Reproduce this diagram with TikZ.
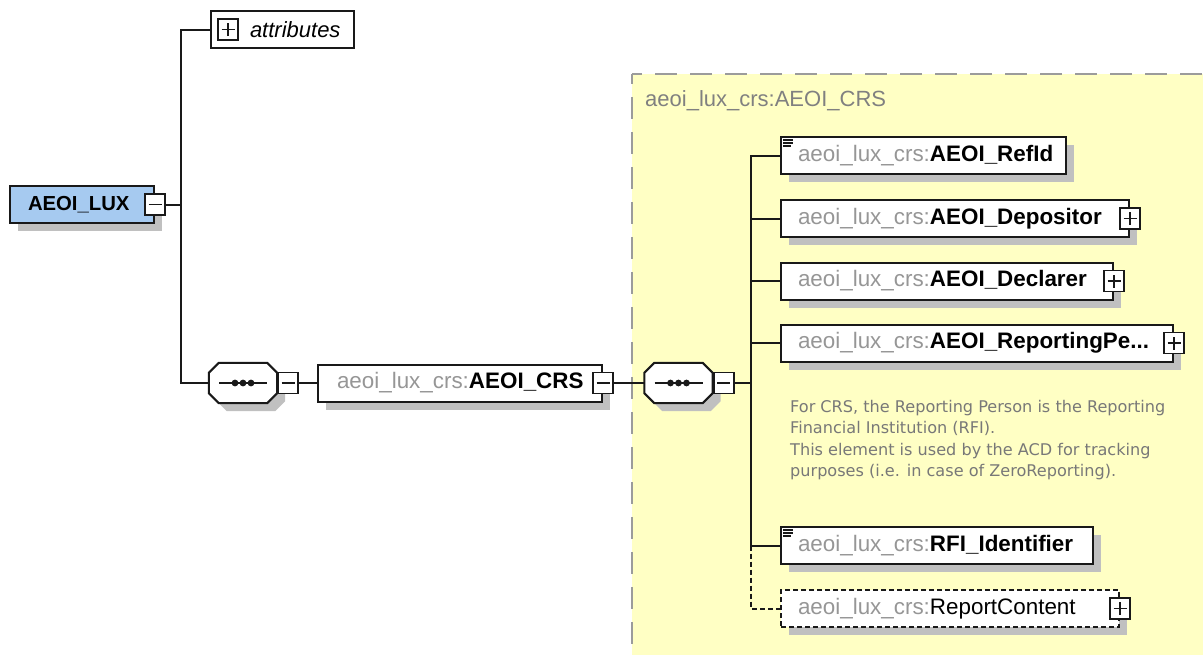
\documentclass[tikz,border=0pt]{standalone}
\usepackage{fontspec}
\setmainfont{Liberation Sans}
\newfontfamily\annfont{DejaVu Sans}
\usetikzlibrary{shadows}
\definecolor{luxblue}{RGB}{166,202,240}
\definecolor{crsyellow}{RGB}{255,255,196}
\definecolor{shgray}{RGB}{192,192,192}
\definecolor{nsgray}{RGB}{150,150,150}
\definecolor{lblgray}{RGB}{128,128,128}
\definecolor{anngray}{RGB}{120,120,120}
\definecolor{bordergray}{RGB}{155,155,155}
\definecolor{lineblack}{RGB}{25,25,25}
\tikzset{
  elem/.style={draw=lineblack, line width=2pt, fill=white, rectangle, anchor=west,
    minimum height=37pt, inner sep=0pt, font=\fontsize{22.4}{26}\selectfont,
    drop shadow={shadow xshift=8pt, shadow yshift=-8pt, fill=shgray, opacity=1}},
  optelem/.style={elem, dash pattern=on 5pt off 3pt},
  pmbox/.style={draw=lineblack, line width=1.8pt, fill=white, rectangle,
    minimum width=20pt, minimum height=21pt, inner sep=0pt},
  plusbox/.style={pmbox, path picture={
    \draw[line width=1.8pt] ([xshift=-6.5pt]path picture bounding box.center) -- ([xshift=6.5pt]path picture bounding box.center)
      ([yshift=-6.5pt]path picture bounding box.center) -- ([yshift=6.5pt]path picture bounding box.center);}},
  minusbox/.style={pmbox, path picture={
    \draw[line width=1.8pt] ([xshift=-6.5pt]path picture bounding box.center) -- ([xshift=6.5pt]path picture bounding box.center);}},
  conn/.style={draw=lineblack, line width=2pt},
  optconn/.style={conn, dash pattern=on 5pt off 3pt},
  seqhold/.style={rectangle, minimum width=68pt, minimum height=40pt, inner sep=0pt},
  regionborder/.style={draw=bordergray, line width=2pt, dash pattern=on 22pt off 13pt, dash phase=12pt},
}
\newcommand{\xel}[5][elem]{\node[#1] (#2) at (780,#3) {\makebox[#4pt][l]{\hspace{17pt}\textcolor{nsgray}{aeoi\_lux\_crs:}#5}};}
\begin{document}
\begin{tikzpicture}[x=1pt,y=-1pt]
\useasboundingbox (0,0) rectangle (1203,654);
\fill[white] (0,0) rectangle (1203,654);
\clip (0,0) rectangle (1203,654);
% complex type region
\fill[crsyellow] (632,74) rectangle (1240,700);
\draw[regionborder] (632,74) -- (632,700);
\draw[regionborder] (632,74) -- (1240,74);
\node[anchor=west, inner sep=0pt, text=lblgray, font=\fontsize{22}{26}\selectfont] (crslabel) at (645,101) {aeoi\_lux\_crs:AEOI\_CRS};
% attributes
\node[draw=lineblack, line width=2pt, fill=white, anchor=west, minimum height=37pt, inner sep=0pt,
  font=\fontsize{22}{26}\selectfont] (attr) at (210,29.5) {\makebox[143pt][l]{\hspace{39pt}\textit{attributes}}};
\node[plusbox] (attrp) at ([xshift=18pt]attr.west) {};
% root
\node[elem, fill=luxblue, font=\bfseries\fontsize{20.3}{24}\selectfont] (lux) at (9,204.5) {\makebox[144pt][l]{\hspace{18pt}AEOI\_LUX}};
\node[minusbox] (luxm) at (lux.east) {};
% sequences
\node[seqhold] (seqA) at (243,383) {};
\node[seqhold] (seqB) at (678.5,383) {};
\foreach \s in {seqA,seqB}{
  \begin{scope}[transform canvas={xshift=8pt,yshift=-8pt}]
    \fill[shgray] ([xshift=10pt]\s.north west) -- ([xshift=-10pt]\s.north east) -- ([yshift=-10pt]\s.north east) -- ([yshift=10pt]\s.south east) -- ([xshift=-10pt]\s.south east) -- ([xshift=10pt]\s.south west) -- ([yshift=10pt]\s.south west) -- ([yshift=-10pt]\s.north west) -- cycle;
  \end{scope}
  \filldraw[fill=white, draw=lineblack, line width=2pt] ([xshift=10pt]\s.north west) -- ([xshift=-10pt]\s.north east) -- ([yshift=-10pt]\s.north east) -- ([yshift=10pt]\s.south east) -- ([xshift=-10pt]\s.south east) -- ([xshift=10pt]\s.south west) -- ([yshift=10pt]\s.south west) -- ([yshift=-10pt]\s.north west) -- cycle;
  \draw[line width=2pt, lineblack] ([xshift=-24pt]\s.center) -- ([xshift=24pt]\s.center);
  \foreach \d in {-8,0,8} \fill[lineblack] ([xshift=\d pt]\s.center) circle[radius=3.4pt];
}
\node[minusbox, anchor=west] (seqAm) at (seqA.east) {};
\node[minusbox, anchor=west] (seqBm) at (seqB.east) {};
% AEOI_CRS
\node[elem] (crs) at (317,383) {\makebox[284pt][l]{\hspace{19pt}\textcolor{nsgray}{aeoi\_lux\_crs:}\textbf{AEOI\_CRS}}};
\node[minusbox] (crsm) at (crs.east) {};
% children
\xel{refid}{155.5}{285}{\textbf{AEOI\_RefId}}
\xel{dep}{218.5}{348}{\textbf{AEOI\_Depositor}}
\xel{decl}{281}{332}{\textbf{AEOI\_Declarer}}
\xel{rep}{343}{392}{\textbf{AEOI\_ReportingPe...}}
\xel{rfi}{545.5}{312}{\textbf{RFI\_Identifier}}
\xel[optelem]{rc}{608.5}{338}{ReportContent}
\node[plusbox] (depp) at (dep.east) {};
\node[plusbox] (declp) at (decl.east) {};
\node[plusbox] (repp) at (rep.east) {};
\node[plusbox] (rcp) at (rc.east) {};
% simple-content icons
\foreach \n in {refid,rfi}{
  \draw[line width=1.3pt, lineblack] ([xshift=3pt,yshift=-4pt]\n.north west) -- ([xshift=13pt,yshift=-4pt]\n.north west);
  \draw[line width=1.3pt, lineblack] ([xshift=3pt,yshift=-7pt]\n.north west) -- ([xshift=13pt,yshift=-7pt]\n.north west);
  \draw[line width=1.3pt, lineblack] ([xshift=3pt,yshift=-10pt]\n.north west) -- ([xshift=11pt,yshift=-10pt]\n.north west);
}
% annotation
\node[anchor=north west, inner sep=0pt, align=left, text=anngray,
  font=\annfont\fontsize{16.1}{21.3}\selectfont] (ann) at (790,400)
  {For CRS, the Reporting Person is the Reporting\\Financial Institution (RFI).\\This element is used by the ACD for tracking\\purposes (i.e. in case of ZeroReporting).};
% connectors
\coordinate (busL) at (181,0);
\coordinate (busR) at (751,0);
\draw[conn] (luxm.east) -- (luxm.east -| busL);
\draw[conn] (attr.west) -- (attr.west -| busL) |- (seqA.west);
\draw[conn] (seqAm.east) -- (crs.west);
\draw[conn] (crsm.east) -- (seqB.west);
\draw[conn] (seqBm.east) -- (seqBm.east -| busR);
\draw[conn] (refid.west) -- (refid.west -| busR) |- (rfi.west);
\draw[conn] (dep.west) -- (dep.west -| busR);
\draw[conn] (decl.west) -- (decl.west -| busR);
\draw[conn] (rep.west) -- (rep.west -| busR);
\draw[optconn] (rfi.west -| busR) |- (rc.west);
\end{tikzpicture}
\end{document}
